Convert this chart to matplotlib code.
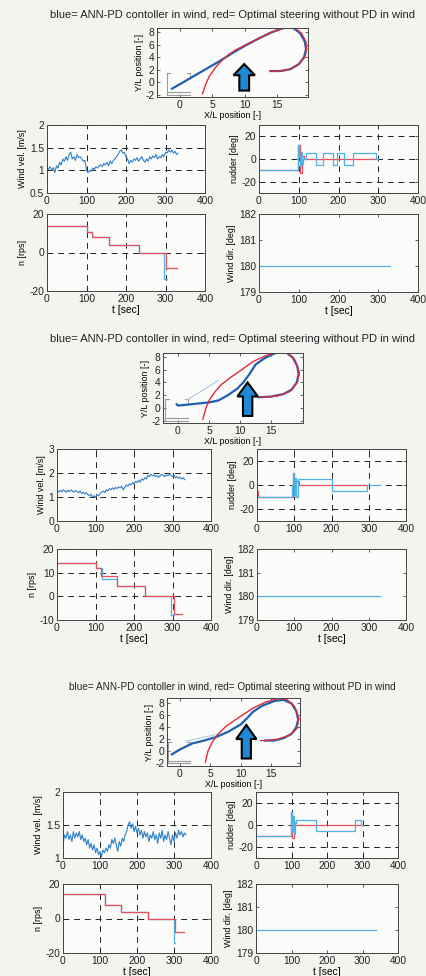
import numpy as np
import matplotlib
matplotlib.use('Agg')
import matplotlib.pyplot as plt
from matplotlib.patches import FancyArrow
from matplotlib.ticker import FormatStrFormatter

plt.rcParams['font.family'] = ['Liberation Sans', 'DejaVu Sans']

W, H = 426, 976
TITLE = "blue= ANN-PD contoller in wind, red= Optimal steering without PD in wind"

# ---------------- data ----------------
# wind velocity samples every 4 s
wind_p1 = [1.05, 1.02, 1.08, 1.0, 1.06, 0.95, 1.1, 1.05, 1.18, 1.12,
           1.25, 1.2, 1.3, 1.22, 1.35, 1.4, 1.25, 1.3, 1.22, 1.35,
           1.28, 1.3, 1.25, 1.2, 1.22, 1.0, 0.95, 1.0, 0.98, 1.05,
           1.02, 1.08, 1.05, 1.1, 1.12, 1.08, 1.15, 1.12, 1.18, 1.1,
           1.2, 1.15, 1.22, 1.25, 1.3, 1.35, 1.42, 1.45, 1.38, 1.4,
           1.3, 1.25, 1.15, 1.22, 1.18, 1.25, 1.22, 1.28, 1.2, 1.25,
           1.3, 1.22, 1.18, 1.25, 1.2, 1.3, 1.25, 1.32, 1.28, 1.35,
           1.25, 1.3, 1.28, 1.35, 1.3, 1.4, 1.38, 1.45, 1.4, 1.45,
           1.38, 1.42, 1.35, 1.38]
wind_p2 = [1.25, 1.2, 1.28, 1.22, 1.3, 1.25, 1.2, 1.28, 1.22, 1.3,
           1.25, 1.2, 1.27, 1.22, 1.18, 1.25, 1.15, 1.2, 1.12, 1.18,
           1.1, 1.05, 1.12, 1.0, 1.05, 1.0, 1.1, 1.05, 1.15, 1.2,
           1.25, 1.18, 1.3, 1.25, 1.35, 1.3, 1.38, 1.32, 1.4, 1.35,
           1.42, 1.38, 1.45, 1.3, 1.4, 1.5, 1.45, 1.55, 1.5, 1.6,
           1.55, 1.65, 1.6, 1.7, 1.62, 1.75, 1.7, 1.8, 1.75, 1.9,
           1.85, 1.95, 1.88, 1.92, 1.85, 1.9, 1.82, 1.88, 1.95, 1.9,
           1.85, 1.92, 1.88, 1.95, 1.9, 1.85, 1.92, 1.8, 1.85, 1.78,
           1.82, 1.75, 1.8, 1.72]
wind_p3 = [1.2, 1.35, 1.3, 1.4, 1.28, 1.35, 1.25, 1.4, 1.3, 1.38,
           1.32, 1.4, 1.28, 1.35, 1.25, 1.3, 1.2, 1.28, 1.15, 1.22,
           1.12, 1.2, 1.08, 1.15, 1.05, 1.1, 1.02, 1.12, 1.08, 1.15,
           1.1, 1.2, 1.15, 1.28, 1.22, 1.3, 1.2, 1.1, 1.25, 1.18,
           1.3, 1.25, 1.35, 1.4, 1.5, 1.55, 1.45, 1.52, 1.4, 1.48,
           1.38, 1.45, 1.35, 1.42, 1.3, 1.4, 1.32, 1.38, 1.25, 1.35,
           1.3, 1.4, 1.28, 1.35, 1.22, 1.38, 1.3, 1.42, 1.25, 1.35,
           1.28, 1.4, 1.3, 1.2, 1.35, 1.25, 1.38, 1.3, 1.42, 1.35,
           1.4, 1.32, 1.38, 1.35]
wind_dt = 4.0

# rudder (step signals: breakpoints, values)
rud_blue_t_p1 = [0, 97, 99, 101, 103, 105, 108, 111, 119, 144, 161, 186, 195, 215, 236, 295, 300]
rud_blue_v_p1 = [-10, 5, 12, 2, -6, 6, -4, 0, 5, -5, 5, -5, 5, -5, 5, 0, 0]
rud_red_t_p1 = [0, 97, 102, 108, 113, 300]
rud_red_v_p1 = [-10, 12, -12, 3, 0, 0]

rud_blue_t_p2 = [0, 95, 97, 100, 103, 106, 110, 200, 295, 330]
rud_blue_v_p2 = [-10, 0, 10, -8, 6, -10, 5, -5, 0, 0]
rud_red_t_p2 = [0, 2, 96, 100, 106, 113, 292]
rud_red_v_p2 = [-5, -10, 10, -10, 3, 0, 0]

rud_blue_t_p3 = [0, 98, 100, 103, 106, 110, 114, 170, 278, 297, 300]
rud_blue_v_p3 = [-10, 12, -5, 8, -8, 2, 5, -5, 5, 0, 0]
rud_red_t_p3 = [0, 98, 102, 106, 110, 300]
rud_red_v_p3 = [-10, 12, -12, 3, 0, 0]

# propeller revolutions n [rps]
n_blue_t_p1 = [0, 100, 114, 158, 234, 295, 303]
n_blue_v_p1 = [14, 10.7, 7.8, 3.7, 0, -14, -14]
n_red_t_p1 = [0, 100, 114, 158, 234, 300, 330]
n_red_v_p1 = [14, 10.7, 7.8, 3.7, 0, -8, -8]

n_blue_t_p2 = [0, 100, 116, 156, 229, 296, 303]
n_blue_v_p2 = [14, 12, 7.5, 4.2, 0, -7.8, -7.8]
n_red_t_p2 = [0, 100, 113, 156, 229, 303, 325]
n_red_v_p2 = [14, 12, 8.5, 4.2, 0, -7.5, -7.5]

n_blue_t_p3 = [0, 113, 156, 230, 300, 304]
n_blue_v_p3 = [14, 8.1, 3.5, 0, -14.4, -14.4]
n_red_t_p3 = [0, 113, 156, 230, 303, 326]
n_red_v_p3 = [14, 8.1, 3.5, 0, -8, -8]

# wind direction (constant)
wdir_end = [330, 331, 337]
wdir_value = 180

# trajectories (X/L, Y/L)
trajB_x_p1 = [-1.2, 0, 2, 4, 6, 8, 10, 12, 14, 15.5, 16.5, 17.5, 18.5, 19.2, 19.4, 19.1, 18.3, 17, 15.5, 14]
trajB_y_p1 = [-1.0, -0.3, 0.9, 2.1, 3.3, 4.6, 5.8, 6.9, 7.9, 8.5, 8.7, 8.6, 7.8, 6.5, 5.3, 4.0, 2.9, 2.1, 1.8, 1.8]
trajR_x_p1 = [3.5, 3.9, 4.5, 5.5, 6.5, 7.5, 8.5, 10, 12, 14, 15.6, 16.7, 17.7, 18.7, 19.4, 19.5, 19.2, 18.3, 17, 15.5, 13.8]
trajR_y_p1 = [-1.8, -0.5, 0.9, 2.4, 3.5, 4.4, 5.1, 5.9, 6.9, 7.9, 8.5, 8.8, 8.6, 7.8, 6.4, 5.3, 4.0, 2.9, 2.1, 1.8, 1.8]

trajB_x_p2 = [-0.2, 0, 2, 5, 6.5, 8, 9.5, 10.5, 11.5, 12.5, 14, 15.5, 16.5, 17.5, 18.5, 19.2, 19.4, 19.1, 18.3, 17, 15, 13]
trajB_y_p2 = [0.6, 0.4, 0.6, 0.9, 1.2, 2.0, 3.0, 4.0, 5.3, 6.8, 7.8, 8.5, 8.7, 8.6, 7.8, 6.5, 5.3, 4.0, 2.9, 2.2, 1.8, 1.7]
trajR_x_p2 = [4, 4.5, 5, 6, 7, 8.5, 10, 12, 14, 16, 17.5, 18.8, 19.5, 19.2, 18, 16, 13.3]
trajR_y_p2 = [-1.7, 0, 1.2, 2.6, 3.7, 4.8, 5.8, 7.2, 8.1, 8.8, 8.7, 7.5, 5.5, 4.0, 2.6, 1.9, 1.7]
trajL_x_p2 = [1.5, 6.5]
trajL_y_p2 = [1.3, 4.3]

trajB_x_p3 = [-1.3, 0, 2, 4, 6, 8, 10, 11, 12, 13.5, 15.5, 17, 18.3, 19.1, 19.4, 19.1, 18.3, 17, 15.5, 14]
trajB_y_p3 = [-0.5, 0.3, 1.3, 1.8, 2.4, 3.3, 4.5, 5.5, 6.6, 7.6, 8.4, 8.6, 8.0, 6.7, 5.3, 4.0, 2.9, 2.2, 1.8, 1.8]
trajR_x_p3 = [4.2, 4.6, 5.3, 6.2, 7.5, 9, 10.5, 12, 14, 16, 17.5, 18.8, 19.5, 19.2, 18, 16, 14, 13.3]
trajR_y_p3 = [-1.8, 0, 1.5, 2.8, 4.1, 5.2, 6.2, 7.2, 8.2, 8.8, 8.7, 7.5, 5.5, 3.8, 2.7, 2.0, 1.8, 1.8]
trajL_x_p3 = [1.0, 6.0]
trajL_y_p3 = [1.7, 2.8]

# small gray outline near the start point
outline_segments = [([-2.0, -2.0], [-1.9, 1.5]), ([-2.0, -1.5], [1.5, 1.5]),
                    ([-2.0, 1.6], [-1.6, -1.6]), ([-2.0, 1.6], [-2.0, -2.0]),
                    ([1.1, 1.6], [1.5, 1.5]), ([1.6, 1.6], [1.5, 1.0])]

# wind arrow (x, y_start, length) per panel
arrow_p = [(9.9, -1.3, 4.2), (11.2, -1.2, 5.2), (10.9, -1.2, 5.6)]

# axes pixel boxes (left, right, top, bottom)
layout = [
    dict(traj=(157, 308, 28, 97), xl=(-3.5, 19.7), yl=(-2.32, 8.63), title_y=15, title_fs=8.0,
         wv=(47, 205, 125, 193), rd=(259, 418, 125, 193), n=(47, 205, 214, 291), wd=(259, 418, 214, 292),
         wv_lim=(0.5, 2), wv_ticks=[0.5, 1, 1.5, 2], n_lim=(-20, 20), n_ticks=[-20, 0, 20]),
    dict(traj=(163, 303, 353, 423), xl=(-2.4, 20.1), yl=(-2.3, 8.57), title_y=339, title_fs=8.0,
         wv=(57, 211, 449, 521), rd=(257, 406, 449, 521), n=(57, 211, 549, 620), wd=(257, 406, 549, 620),
         wv_lim=(0, 3), wv_ticks=[0, 1, 2, 3], n_lim=(-10, 20), n_ticks=[-10, 0, 10, 20]),
    dict(traj=(167, 300, 698, 766), xl=(-2.1, 19.7), yl=(-2.45, 8.9), title_y=687, title_fs=7.2,
         wv=(63, 211, 792, 858), rd=(256, 398, 792, 858), n=(63, 211, 884, 953), wd=(256, 398, 884, 953),
         wv_lim=(1, 2), wv_ticks=[1, 1.5, 2], n_lim=(-20, 20), n_ticks=[-20, 0, 20]),
]

winds = [wind_p1, wind_p2, wind_p3]
rud_b = [(rud_blue_t_p1, rud_blue_v_p1), (rud_blue_t_p2, rud_blue_v_p2), (rud_blue_t_p3, rud_blue_v_p3)]
rud_r = [(rud_red_t_p1, rud_red_v_p1), (rud_red_t_p2, rud_red_v_p2), (rud_red_t_p3, rud_red_v_p3)]
n_b = [(n_blue_t_p1, n_blue_v_p1), (n_blue_t_p2, n_blue_v_p2), (n_blue_t_p3, n_blue_v_p3)]
n_r = [(n_red_t_p1, n_red_v_p1), (n_red_t_p2, n_red_v_p2), (n_red_t_p3, n_red_v_p3)]
trajB = [(trajB_x_p1, trajB_y_p1), (trajB_x_p2, trajB_y_p2), (trajB_x_p3, trajB_y_p3)]
trajR = [(trajR_x_p1, trajR_y_p1), (trajR_x_p2, trajR_y_p2), (trajR_x_p3, trajR_y_p3)]
trajL = [None, (trajL_x_p2, trajL_y_p2), (trajL_x_p3, trajL_y_p3)]

# ---------------- styling ----------------
BLUE_W = '#2f80c8'
BLUE_L = '#4fb2e4'
BLUE_D = '#1f5fb0'
RED = '#e8505c'
RED_T = '#e02a3c'
GRIDC = '#222222'
FS = 7.4
LFS = 6.4

fig = plt.figure(figsize=(W / 100, H / 100), dpi=100, facecolor='#f3f3f0')


def add_ax(box):
    l, r, t, b = box
    return fig.add_axes([l / W, 1 - b / H, (r - l) / W, (b - t) / H])


def style(ax, grid=True):
    ax.set_facecolor('#fbfbfa')
    ax.tick_params(direction='in', top=True, right=True, length=2, width=0.5,
                   labelsize=FS, pad=2, colors='#222')
    for s in ax.spines.values():
        s.set_linewidth(0.7)
        s.set_color('#444')
    if grid:
        ax.grid(True, color=GRIDC, linestyle=(0, (6, 5)), linewidth=0.7)
    ax.yaxis.set_major_formatter(FormatStrFormatter('%g'))
    ax.xaxis.set_major_formatter(FormatStrFormatter('%g'))


for i, L in enumerate(layout):
    # title
    fig.text(232 / W, 1 - L['title_y'] / H, TITLE, ha='center', va='center',
             fontsize=L['title_fs'], color='#222')

    # trajectory
    ax = add_ax(L['traj'])
    style(ax, grid=False)
    for sx, sy in outline_segments:
        ax.plot(sx, sy, color='#9a9a9a', lw=0.8)
    if trajL[i] is not None:
        ax.plot(trajL[i][0], trajL[i][1], color='#a8c8e4', lw=0.8)
    ax.plot(trajB[i][0], trajB[i][1], color=BLUE_D, lw=1.6)
    ax.plot(trajR[i][0], trajR[i][1], color=RED_T, lw=1.0)
    ax_x, ax_y, ax_len = arrow_p[i]
    ax.add_patch(FancyArrow(ax_x, ax_y, 0, ax_len, width=1.5, head_width=3.3,
                            head_length=ax_len * 0.42, length_includes_head=True,
                            fc='#1e8ad6', ec='black', lw=1.5, zorder=5))
    ax.set_xlim(*L['xl'])
    ax.set_ylim(*L['yl'])
    ax.set_xticks([0, 5, 10, 15])
    ax.set_yticks([-2, 0, 2, 4, 6, 8])
    ax.set_xlabel('X/L position [-]', fontsize=LFS, labelpad=1)
    ax.set_ylabel('Y/L position [-]', fontsize=LFS, labelpad=1)

    # wind velocity
    ax = add_ax(L['wv'])
    style(ax)
    w = winds[i]
    t = np.arange(len(w)) * wind_dt
    ax.plot(t, w, color=BLUE_W, lw=0.8)
    ax.set_xlim(0, 400)
    ax.set_ylim(*L['wv_lim'])
    ax.set_xticks([0, 100, 200, 300, 400])
    ax.set_yticks(L['wv_ticks'])
    ax.set_ylabel('Wind vel. [m/s]', fontsize=LFS, labelpad=2)

    # rudder
    ax = add_ax(L['rd'])
    style(ax)
    ax.plot(rud_r[i][0], rud_r[i][1], color=RED, lw=0.9, drawstyle='steps-post')
    ax.plot(rud_b[i][0], rud_b[i][1], color=BLUE_L, lw=0.9, drawstyle='steps-post')
    ax.set_xlim(0, 400)
    ax.set_ylim(-30, 30)
    ax.set_xticks([0, 100, 200, 300, 400])
    ax.set_yticks([-20, 0, 20])
    ax.set_ylabel('rudder [deg]', fontsize=LFS, labelpad=2)

    # n
    ax = add_ax(L['n'])
    style(ax)
    ax.plot(n_b[i][0], n_b[i][1], color=BLUE_L, lw=0.9, drawstyle='steps-post')
    ax.plot(n_r[i][0], n_r[i][1], color=RED, lw=0.9, drawstyle='steps-post')
    ax.set_xlim(0, 400)
    ax.set_ylim(*L['n_lim'])
    ax.set_xticks([0, 100, 200, 300, 400])
    ax.set_yticks(L['n_ticks'])
    ax.set_ylabel('n [rps]', fontsize=LFS, labelpad=2)
    ax.set_xlabel('t [sec]', fontsize=FS, labelpad=1)

    # wind direction
    ax = add_ax(L['wd'])
    style(ax, grid=False)
    ax.plot([0, wdir_end[i]], [wdir_value, wdir_value], color=BLUE_L, lw=0.9)
    ax.set_xlim(0, 400)
    ax.set_ylim(179, 182)
    ax.set_xticks([0, 100, 200, 300, 400])
    ax.set_yticks([179, 180, 181, 182])
    ax.set_ylabel('Wind dir. [deg]', fontsize=LFS, labelpad=2)
    ax.set_xlabel('t [sec]', fontsize=FS, labelpad=1)

fig.savefig('out.png', dpi=100, facecolor=fig.get_facecolor())
